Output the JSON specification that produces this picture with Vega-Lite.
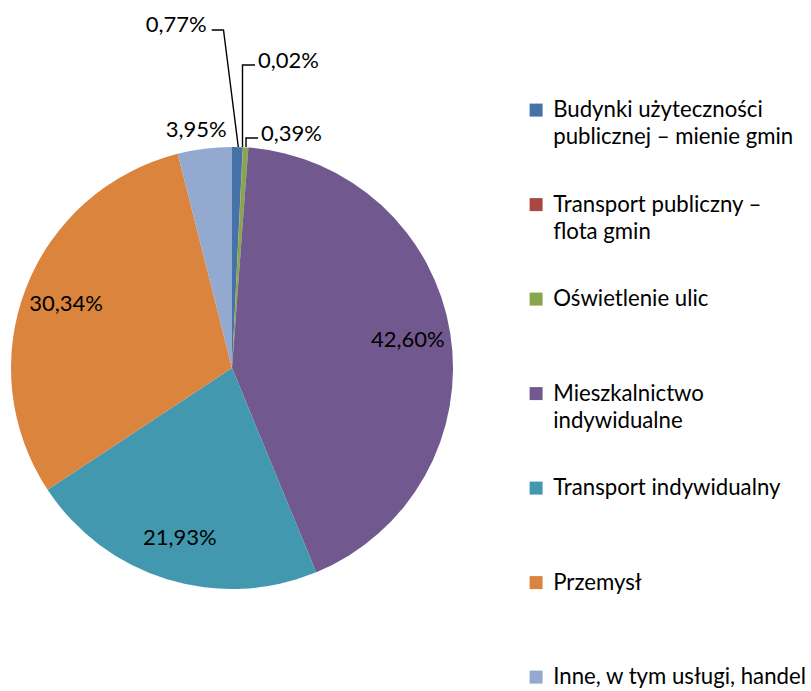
{
  "$schema": "https://vega.github.io/schema/vega-lite/v6.json",
  "width": 464,
  "height": 691,
  "padding": 0,
  "config": {"view": {"stroke": null}, "font": "Lato", "text": {"font": "Lato"}},
  "datasets": {
    "slices": [
      {"n": 1, "cat": "Budynki użyteczności publicznej – mienie gmin", "v": 0.77},
      {"n": 2, "cat": "Transport publiczny – flota gmin", "v": 0.02},
      {"n": 3, "cat": "Oświetlenie ulic", "v": 0.39},
      {"n": 4, "cat": "Mieszkalnictwo indywidualne", "v": 42.60},
      {"n": 5, "cat": "Transport indywidualny", "v": 21.93},
      {"n": 6, "cat": "Przemysł", "v": 30.34},
      {"n": 7, "cat": "Inne, w tym usługi, handel", "v": 3.95}
    ],
    "leaders": [
      {"g": "0,77%", "i": 0, "x": -20.3, "y": 338},
      {"g": "0,77%", "i": 1, "x": -8.5, "y": 338},
      {"g": "0,77%", "i": 2, "x": 6.3, "y": 221},
      {"g": "0,02%", "i": 0, "x": 23, "y": 303},
      {"g": "0,02%", "i": 1, "x": 10.5, "y": 303},
      {"g": "0,02%", "i": 2, "x": 10.5, "y": 221},
      {"g": "0,39%", "i": 0, "x": 26, "y": 230},
      {"g": "0,39%", "i": 1, "x": 14, "y": 230},
      {"g": "0,39%", "i": 2, "x": 14, "y": 221}
    ]
  },
  "layer": [
    {
      "data": {"name": "slices"},
      "mark": {"type": "arc", "outerRadius": 221},
      "encoding": {
        "x": {"datum": 0, "type": "quantitative", "scale": {"domain": [-232, 232], "nice": false, "zero": false}, "axis": null},
        "y": {"datum": 0, "type": "quantitative", "scale": {"domain": [-323, 368], "nice": false, "zero": false}, "axis": null},
        "theta": {"field": "v", "type": "quantitative", "stack": true},
        "order": {"field": "n", "type": "quantitative"},
        "color": {
          "field": "cat",
          "type": "nominal",
          "sort": null,
          "scale": {
            "domain": ["Budynki użyteczności publicznej – mienie gmin", "Transport publiczny – flota gmin", "Oświetlenie ulic", "Mieszkalnictwo indywidualne", "Transport indywidualny", "Przemysł", "Inne, w tym usługi, handel"],
            "range": ["#4572A7", "#AA4643", "#89A54E", "#71588F", "#4198AF", "#DB843D", "#93A9CF"]
          },
          "legend": {
            "orient": "none",
            "legendX": 525,
            "legendY": 99,
            "title": null,
            "padding": 0,
            "symbolType": "square",
            "symbolSize": 169,
            "symbolStrokeWidth": 0,
            "labelFont": "Lato",
            "labelFontSize": 22.2,
            "labelColor": "#000000",
            "labelLimit": 400,
            "labelOffset": 6,
            "labelBaseline": "middle",
            "rowPadding": 44.5,
            "gridAlign": "all",
            "encode": {"labels": {"update": {"lineHeight": {"value": 27}}}},
            "labelExpr": "datum.label == 'Budynki użyteczności publicznej – mienie gmin' ? ['Budynki użyteczności', 'publicznej – mienie gmin'] : datum.label == 'Transport publiczny – flota gmin' ? ['Transport publiczny –', 'flota gmin'] : datum.label == 'Mieszkalnictwo indywidualne' ? ['Mieszkalnictwo', 'indywidualne'] : datum.label"
          }
        }
      }
    },
    {
      "data": {"name": "slices"},
      "transform": [{"calculate": "replace(format(datum.v, '.2f'), '.', ',') + '%'", "as": "lbl"}],
      "mark": {"type": "text", "radius": 178, "fontSize": 22, "color": "#000000"},
      "encoding": {
        "x": {"datum": 0, "type": "quantitative"},
        "y": {"datum": 0, "type": "quantitative"},
        "theta": {"field": "v", "type": "quantitative", "stack": true},
        "order": {"field": "n", "type": "quantitative"},
        "text": {"condition": {"test": "datum.v >= 20", "field": "lbl"}, "value": ""}
      }
    },
    {
      "data": {"name": "slices"},
      "transform": [{"calculate": "replace(format(datum.v, '.2f'), '.', ',') + '%'", "as": "lbl"}],
      "mark": {"type": "text", "radius": 240, "fontSize": 22, "color": "#000000", "dx": -6},
      "encoding": {
        "x": {"datum": 0, "type": "quantitative"},
        "y": {"datum": 0, "type": "quantitative"},
        "theta": {"field": "v", "type": "quantitative", "stack": true},
        "order": {"field": "n", "type": "quantitative"},
        "text": {"condition": {"test": "datum.v > 3 && datum.v < 5", "field": "lbl"}, "value": ""}
      }
    },
    {
      "data": {"name": "leaders"},
      "mark": {"type": "line", "color": "#000000", "strokeWidth": 1.4},
      "encoding": {
        "x": {"field": "x", "type": "quantitative"},
        "y": {"field": "y", "type": "quantitative"},
        "detail": {"field": "g"},
        "order": {"field": "i", "type": "quantitative"}
      }
    },
    {
      "data": {"name": "leaders"},
      "transform": [{"filter": "datum.i == 0 && datum.x < 0"}],
      "mark": {"type": "text", "align": "right", "dx": -5, "dy": -5, "fontSize": 22, "color": "#000000"},
      "encoding": {
        "x": {"field": "x", "type": "quantitative"},
        "y": {"field": "y", "type": "quantitative"},
        "text": {"field": "g"}
      }
    },
    {
      "data": {"name": "leaders"},
      "transform": [{"filter": "datum.i == 0 && datum.x > 0"}],
      "mark": {"type": "text", "align": "left", "dx": 3, "dy": -4, "fontSize": 22, "color": "#000000"},
      "encoding": {
        "x": {"field": "x", "type": "quantitative"},
        "y": {"field": "y", "type": "quantitative"},
        "text": {"field": "g"}
      }
    }
  ]
}
